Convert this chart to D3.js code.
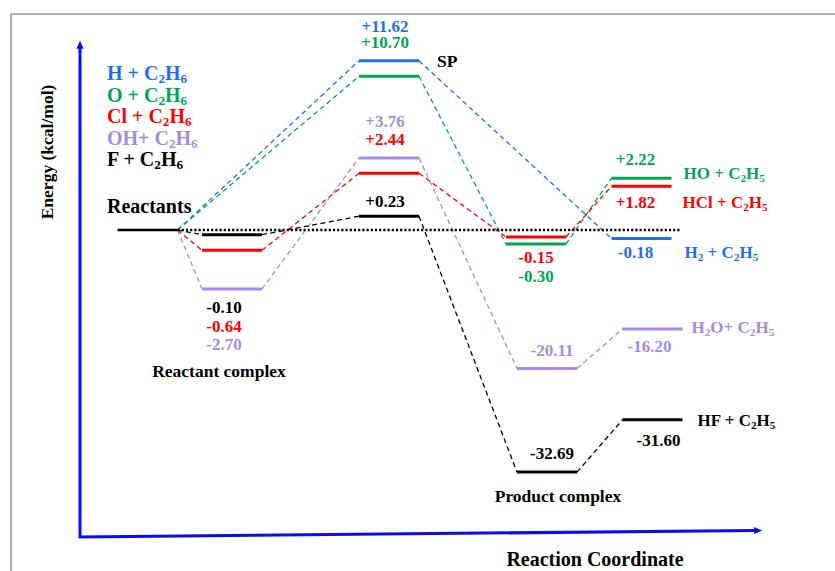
<!DOCTYPE html>
<html>
<head>
<meta charset="utf-8">
<script src="https://cdn.jsdelivr.net/npm/d3@7/dist/d3.min.js"></script>
<style>
  html, body { margin: 0; padding: 0; background: #fff; }
  svg { display: block; }
  text { font-family: "Liberation Serif", "Times New Roman", serif; font-weight: bold; }
</style>
</head>
<body>
<svg id="chart" width="835" height="571"></svg>
<script>
// ---- data -------------------------------------------------------------
// "_x" marks a subscript character in the chemical names
const stages = ["Reactants", "Reactant complex", "SP", "Product complex", "Products"];
const reactionNames = ["H + C_2H_6", "O + C_2H_6", "Cl + C_2H_6", "OH+ C_2H_6", "F + C_2H_6"];
const productNames  = ["H_2 + C_2H_5", "HO + C_2H_5", "HCl + C_2H_5", "H_2O+ C_2H_5", "HF + C_2H_5"];

// relative energies (kcal/mol) per stage; null = no stationary point reported
const energyH  = [0, null,  11.62,   null,  -0.18];
const energyO  = [0, null,  10.70,  -0.30,   2.22];
const energyCl = [0, -0.64,  2.44,  -0.15,   1.82];
const energyOH = [0, -2.70,  3.76, -20.11, -16.20];
const energyF  = [0, -0.10,  0.23, -32.69, -31.60];

const seriesEnergies = [energyH, energyO, energyCl, energyOH, energyF];
const seriesColors = ["#1f6ff0", "#00a651", "#ff0000", "#a48ce4", "#000000"];

// ---- scales -----------------------------------------------------------
// Schematic energy axis: not to scale, large wells are compressed
const y = d3.scaleLinear()
  .domain([-33, -31.5, -20, -16, -3, -0.3, 0, 0.25, 2, 2.5, 10, 12])
  .range([487, 415, 368, 327, 294.5, 244, 230, 215, 183, 172, 88, 54.4]);

// centre of each stage along the reaction coordinate
const x = d3.scaleOrdinal().domain(stages).range([147.5, 232, 389, 536, 641.5]);
const halfW = 30;
// the OH and F wells/products sit a little to the right
const nudge = (si, st) => (si >= 3 && st >= 3) ? 11 : 0;
const cx = (si, st) => x(stages[st]) + nudge(si, st);

// label offsets [dx, dy] from the level centre, per stage and series
const valueOffsets = {
  1: { 2: [-8, 82], 3: [-8, 61], 4: [-8, 78] },
  2: { 0: [-4, -29], 1: [-4, -28], 2: [-4, -28], 3: [-4, -31], 4: [-4, -9] },
  3: { 1: [0, 38], 2: [0, 26], 3: [5, -12], 4: [5, -13] },
  4: { 0: [-6, 20], 1: [-6, -13], 2: [-6, 22], 3: [-3, 23], 4: [6, 26] }
};
// product name offsets [dx from level right end, dy]
const nameOffsets = [[13, 20], [12, 1], [11, 22], [9, 4], [15, 6]];

const svg = d3.select("#chart");

// text with subscripts
function richText(sel, str, size) {
  sel.attr("font-size", size);
  const segs = [];
  for (let i = 0; i < str.length; i++) {
    if (str[i] === "_") { segs.push({ t: str[i + 1], sub: true }); i++; }
    else if (segs.length && !segs[segs.length - 1].sub) segs[segs.length - 1].t += str[i];
    else segs.push({ t: str[i], sub: false });
  }
  const shift = size * 0.17;
  let down = false;
  segs.forEach(s => {
    const ts = sel.append("tspan").text(s.t);
    if (s.sub) {
      ts.attr("font-size", size * 0.66);
      if (!down) { ts.attr("dy", shift); down = true; }
    } else if (down) { ts.attr("dy", -shift); down = false; }
  });
  return sel;
}

const fmt = v => (v > 0 ? "+" : "") + v.toFixed(2);

// ---- frame --------------------------------------------------------------
svg.append("path").attr("d", "M11,571V14H835")
  .attr("fill", "none").attr("stroke", "#9a9a9a").attr("stroke-width", 1.6);

// ---- axes (arrows) -------------------------------------------------------
const defs = svg.append("defs");
defs.append("marker").attr("id", "arrow")
  .attr("viewBox", "0 0 10 10").attr("refX", 1).attr("refY", 5)
  .attr("markerUnits", "userSpaceOnUse")
  .attr("markerWidth", 9).attr("markerHeight", 8).attr("orient", "auto")
  .append("path").attr("d", "M0,0.5L10,5L0,9.5Z").attr("fill", "#0a0af5");

svg.append("line").attr("x1", 80).attr("y1", 538).attr("x2", 80).attr("y2", 48)
  .attr("stroke", "#0a0af5").attr("stroke-width", 3).attr("marker-end", "url(#arrow)");
svg.append("line").attr("x1", 79).attr("y1", 537).attr("x2", 755).attr("y2", 530.5)
  .attr("stroke", "#0a0af5").attr("stroke-width", 3).attr("marker-end", "url(#arrow)");

svg.append("text").attr("transform", "translate(53,152) rotate(-90)")
  .attr("text-anchor", "middle").attr("font-size", 17.5).text("Energy (kcal/mol)");
svg.append("text").attr("x", 595).attr("y", 566)
  .attr("text-anchor", "middle").attr("font-size", 20).text("Reaction Coordinate");

// ---- dashed connectors ---------------------------------------------------
seriesEnergies.forEach((vals, si) => {
  const pts = vals.map((v, st) => ({ v, st })).filter(d => d.v !== null);
  for (let k = 1; k < pts.length; k++) {
    const a = pts[k - 1], b = pts[k];
    svg.append("line")
      .attr("x1", cx(si, a.st) + halfW).attr("y1", y(a.v))
      .attr("x2", cx(si, b.st) - halfW).attr("y2", y(b.v))
      .attr("stroke", seriesColors[si]).attr("stroke-width", 1.3)
      .attr("stroke-dasharray", "5,3.5");
  }
});

// ---- zero reference (dotted) --------------------------------------------
svg.append("line")
  .attr("x1", x(stages[0]) + halfW).attr("x2", 681)
  .attr("y1", y(0)).attr("y2", y(0))
  .attr("stroke", "#000").attr("stroke-width", 2.5).attr("stroke-dasharray", "2.2,2");

// ---- energy levels --------------------------------------------------------
svg.append("line")
  .attr("x1", x(stages[0]) - halfW).attr("x2", x(stages[0]) + halfW)
  .attr("y1", y(0)).attr("y2", y(0))
  .attr("stroke", "#000").attr("stroke-width", 2.5);

seriesEnergies.forEach((vals, si) => {
  vals.forEach((v, st) => {
    if (st === 0 || v === null) return;
    svg.append("line")
      .attr("x1", cx(si, st) - halfW).attr("x2", cx(si, st) + halfW)
      .attr("y1", y(v)).attr("y2", y(v))
      .attr("stroke", seriesColors[si]).attr("stroke-width", 3);
  });
});

// ---- value labels -----------------------------------------------------------
seriesEnergies.forEach((vals, si) => {
  vals.forEach((v, st) => {
    if (st === 0 || v === null) return;
    const [dx, dy] = valueOffsets[st][si];
    svg.append("text")
      .attr("x", cx(si, st) + dx).attr("y", y(v) + dy)
      .attr("text-anchor", "middle").attr("font-size", 17)
      .attr("fill", seriesColors[si]).text(fmt(v));
  });
});

// ---- product names ---------------------------------------------------------
productNames.forEach((name, si) => {
  const v = seriesEnergies[si][4];
  const [dx, dy] = nameOffsets[si];
  richText(svg.append("text")
    .attr("x", cx(si, 4) + halfW + dx).attr("y", y(v) + dy)
    .attr("fill", seriesColors[si]), name, 17);
});

// ---- legend -------------------------------------------------------------------
reactionNames.forEach((name, si) => {
  richText(svg.append("text").attr("x", 107).attr("y", 80 + si * 21.5)
    .attr("fill", seriesColors[si]), name, 20);
});

// ---- stage labels ---------------------------------------------------------------
svg.append("text").attr("x", 107).attr("y", 213).attr("font-size", 20).text("Reactants");
svg.append("text").attr("x", 219).attr("y", 377).attr("text-anchor", "middle")
  .attr("font-size", 17.5).text("Reactant complex");
svg.append("text").attr("x", 437).attr("y", 67).attr("font-size", 17.5).text("SP");
svg.append("text").attr("x", 558).attr("y", 502).attr("text-anchor", "middle")
  .attr("font-size", 17.5).text("Product complex");
</script>
</body>
</html>
